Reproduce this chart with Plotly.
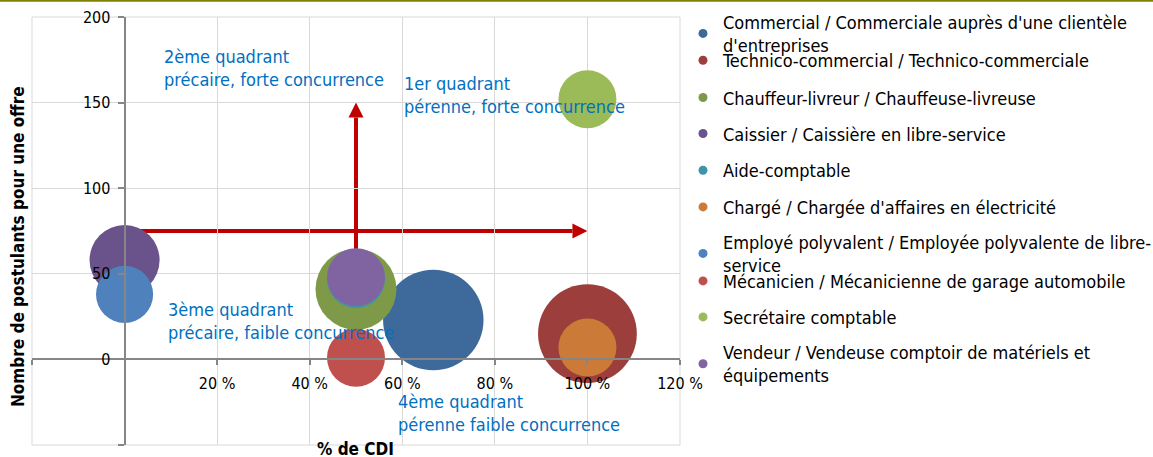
import plotly.graph_objects as go

# ---- data ----
metiers = [
    "Commercial / Commerciale auprès d'une clientèle<br>d'entreprises",
    "Technico-commercial / Technico-commerciale",
    "Chauffeur-livreur / Chauffeuse-livreuse",
    "Caissier / Caissière en libre-service",
    "Aide-comptable",
    "Chargé / Chargée d'affaires en électricité",
    "Employé polyvalent / Employée polyvalente de libre-<br>service",
    "Mécanicien / Mécanicienne de garage automobile",
    "Secrétaire comptable",
    "Vendeur / Vendeuse comptoir de matériels et<br>équipements",
]
pct_cdi = [0.667, 1.0, 0.5, 0.0, 0.5, 1.0, 0.0, 0.5, 1.0, 0.5]
postulants = [23, 15, 41, 58, 47, 7, 38, 1, 152, 48]
bubble_size = [30, 29, 19.5, 14.6, 10, 10, 9.7, 10, 10, 10]
colors = ["#3e6a9b", "#9c3f3c", "#7e9a48", "#69538a", "#3e95ab",
          "#cc7a37", "#4f81bd", "#c0504d", "#9bbb59", "#8064a2"]

x_tickvals = [-0.2, 0.0, 0.2, 0.4, 0.6, 0.8, 1.0, 1.2]
x_ticktext = ["", "", "20 %", "40 %", "60 %", "80 %", "100 %", "120 %"]
y_tickvals = [-50, 0, 50, 100, 150, 200]
y_ticktext = ["", "0", "50", "100", "150", "200"]

quadrants = [
    ("2ème quadrant<br>précaire, forte concurrence", 0.080, 170.4),
    ("1er quadrant<br>pérenne, forte concurrence", 0.600, 154.2),
    ("3ème quadrant<br>précaire, faible concurrence", 0.089, 22.2),
    ("4ème quadrant<br>pérenne faible concurrence", 0.586, -31.1),
]
legend_centers_px = [21.5, 60, 97.3, 133.3, 170, 206.7, 241.5, 280.7, 316.7, 351.8]

# arrows (decoration)
h_arrow = dict(x0=0.0, x1=1.0, y=75)
v_arrow = dict(x=0.5, y0=0, y1=150)

FONT = "DejaVu Sans Condensed, DejaVu Sans, sans-serif"
W, H = 1153, 457
ML, MR, MT, MB = 32, 473, 17, 12
PW, PH = W - ML - MR, H - MT - MB
XR = [-0.2, 1.2]
YR = [-50, 200]
# plotly area mode: radius_px = sqrt(v / (2*sizeref)); size 10 -> 58 px diameter
SIZEREF = 2 * 10 / 58 ** 2

fig = go.Figure()
for i, name in enumerate(metiers):
    fig.add_trace(go.Scatter(
        x=[pct_cdi[i]], y=[postulants[i]], mode="markers",
        marker=dict(size=[bubble_size[i]], sizemode="area", sizeref=SIZEREF,
                    color=colors[i], opacity=1, line=dict(width=0)),
        name=name, showlegend=False, hoverinfo="name+x+y",
    ))
for i, name in enumerate(metiers):
    lg = "legend" if i == 0 else f"legend{i+1}"
    fig.add_trace(go.Scatter(
        x=[None], y=[None], mode="markers",
        marker=dict(size=9, color=colors[i]),
        name=name, showlegend=True, legend=lg,
    ))

def py(px):
    return 1 - (px - MT) / PH

legends = {}
for i, c in enumerate(legend_centers_px):
    lg = "legend" if i == 0 else f"legend{i+1}"
    legends[lg] = dict(
        x=(683 - ML) / PW, xanchor="left",
        y=py(c - 18), yanchor="top",
        bgcolor="rgba(0,0,0,0)", borderwidth=0,
        font=dict(family=FONT, size=18, color="#000000"),
        itemclick=False, itemdoubleclick=False,
    )

# arrows
dx_head = 15 / (PW / (XR[1] - XR[0]))
dy_half = 7.5 / (PH / (YR[1] - YR[0]))
dy_head = 15 / (PH / (YR[1] - YR[0]))
dx_half = 7.5 / (PW / (XR[1] - XR[0]))
red = "#c00000"
shapes = [
    dict(type="rect", xref="paper", yref="paper", x0=0, x1=1, y0=0, y1=1,
         line=dict(color="#d9d9d9", width=1), layer="below"),
    dict(type="line", xref="x", yref="y", x0=h_arrow["x0"], x1=h_arrow["x1"] - dx_head,
         y0=h_arrow["y"], y1=h_arrow["y"], line=dict(color=red, width=4), layer="below"),
    dict(type="path", xref="x", yref="y",
         path=f"M {h_arrow['x1']-dx_head} {h_arrow['y']-dy_half} L {h_arrow['x1']} {h_arrow['y']} "
              f"L {h_arrow['x1']-dx_head} {h_arrow['y']+dy_half} Z",
         fillcolor=red, line=dict(width=0), layer="below"),
    dict(type="line", xref="x", yref="y", x0=v_arrow["x"], x1=v_arrow["x"],
         y0=v_arrow["y0"], y1=v_arrow["y1"] - dy_head, line=dict(color=red, width=4), layer="below"),
    dict(type="path", xref="x", yref="y",
         path=f"M {v_arrow['x']-dx_half} {v_arrow['y1']-dy_head} L {v_arrow['x']} {v_arrow['y1']} "
              f"L {v_arrow['x']+dx_half} {v_arrow['y1']-dy_head} Z",
         fillcolor=red, line=dict(width=0), layer="below"),
    dict(type="line", xref="paper", yref="paper", x0=-ML / PW, x1=(W - ML) / PW,
         y0=1 + (MT - 0.8) / PH, y1=1 + (MT - 0.8) / PH,
         line=dict(color="#808000", width=2)),
]

annotations = []
for txt, ax, ay in quadrants:
    annotations.append(dict(
        text=txt, x=ax, y=ay, xref="x", yref="y", xanchor="left", yanchor="middle",
        align="left", showarrow=False,
        font=dict(family=FONT, size=18, color="#0070c0"),
    ))
annotations.append(dict(
    text="<b>Nombre de postulants pour une offre</b>", textangle=-90,
    x=(18 - ML) / PW, y=py(247), xref="paper", yref="paper",
    xanchor="center", yanchor="middle", showarrow=False,
    font=dict(family=FONT, size=17, color="#000000"),
))
annotations.append(dict(
    text="<b>% de CDI</b>",
    x=(355 - ML) / PW, y=py(449), xref="paper", yref="paper",
    xanchor="center", yanchor="middle", showarrow=False,
    font=dict(family=FONT, size=17, color="#000000"),
))

fig.update_layout(
    width=W, height=H,
    margin=dict(l=ML, r=MR, t=MT, b=MB, autoexpand=False),
    paper_bgcolor="white", plot_bgcolor="white",
    font=dict(family=FONT, size=16, color="#000000"),
    xaxis=dict(
        range=XR, domain=[0, 1], anchor="free",
        position=(0 - YR[0]) / (YR[1] - YR[0]),
        tickvals=x_tickvals, ticktext=x_ticktext,
        showline=True, linecolor="#868686", linewidth=2,
        ticks="outside", ticklen=5, tickcolor="#868686", tickwidth=1.5,
        ticklabelstandoff=4,
        showgrid=True, gridcolor="#d9d9d9", gridwidth=1, zeroline=False,
        tickfont=dict(family=FONT, size=16, color="#000000"),
    ),
    yaxis=dict(
        range=YR, domain=[0, 1], anchor="free",
        position=(0 - XR[0]) / (XR[1] - XR[0]),
        tickvals=y_tickvals, ticktext=y_ticktext,
        showline=True, linecolor="#868686", linewidth=2,
        ticks="outside", ticklen=6, tickcolor="#868686", tickwidth=1.5,
        ticklabelstandoff=4,
        showgrid=True, gridcolor="#d9d9d9", gridwidth=1, zeroline=False,
        tickfont=dict(family=FONT, size=16, color="#000000"),
    ),
    shapes=shapes,
    annotations=annotations,
    showlegend=True,
    **legends,
)

fig.write_html(
    "out.html",
    config={"displayModeBar": False},
    post_script="document.body.style.margin='0px';document.body.style.padding='0px';",
)
